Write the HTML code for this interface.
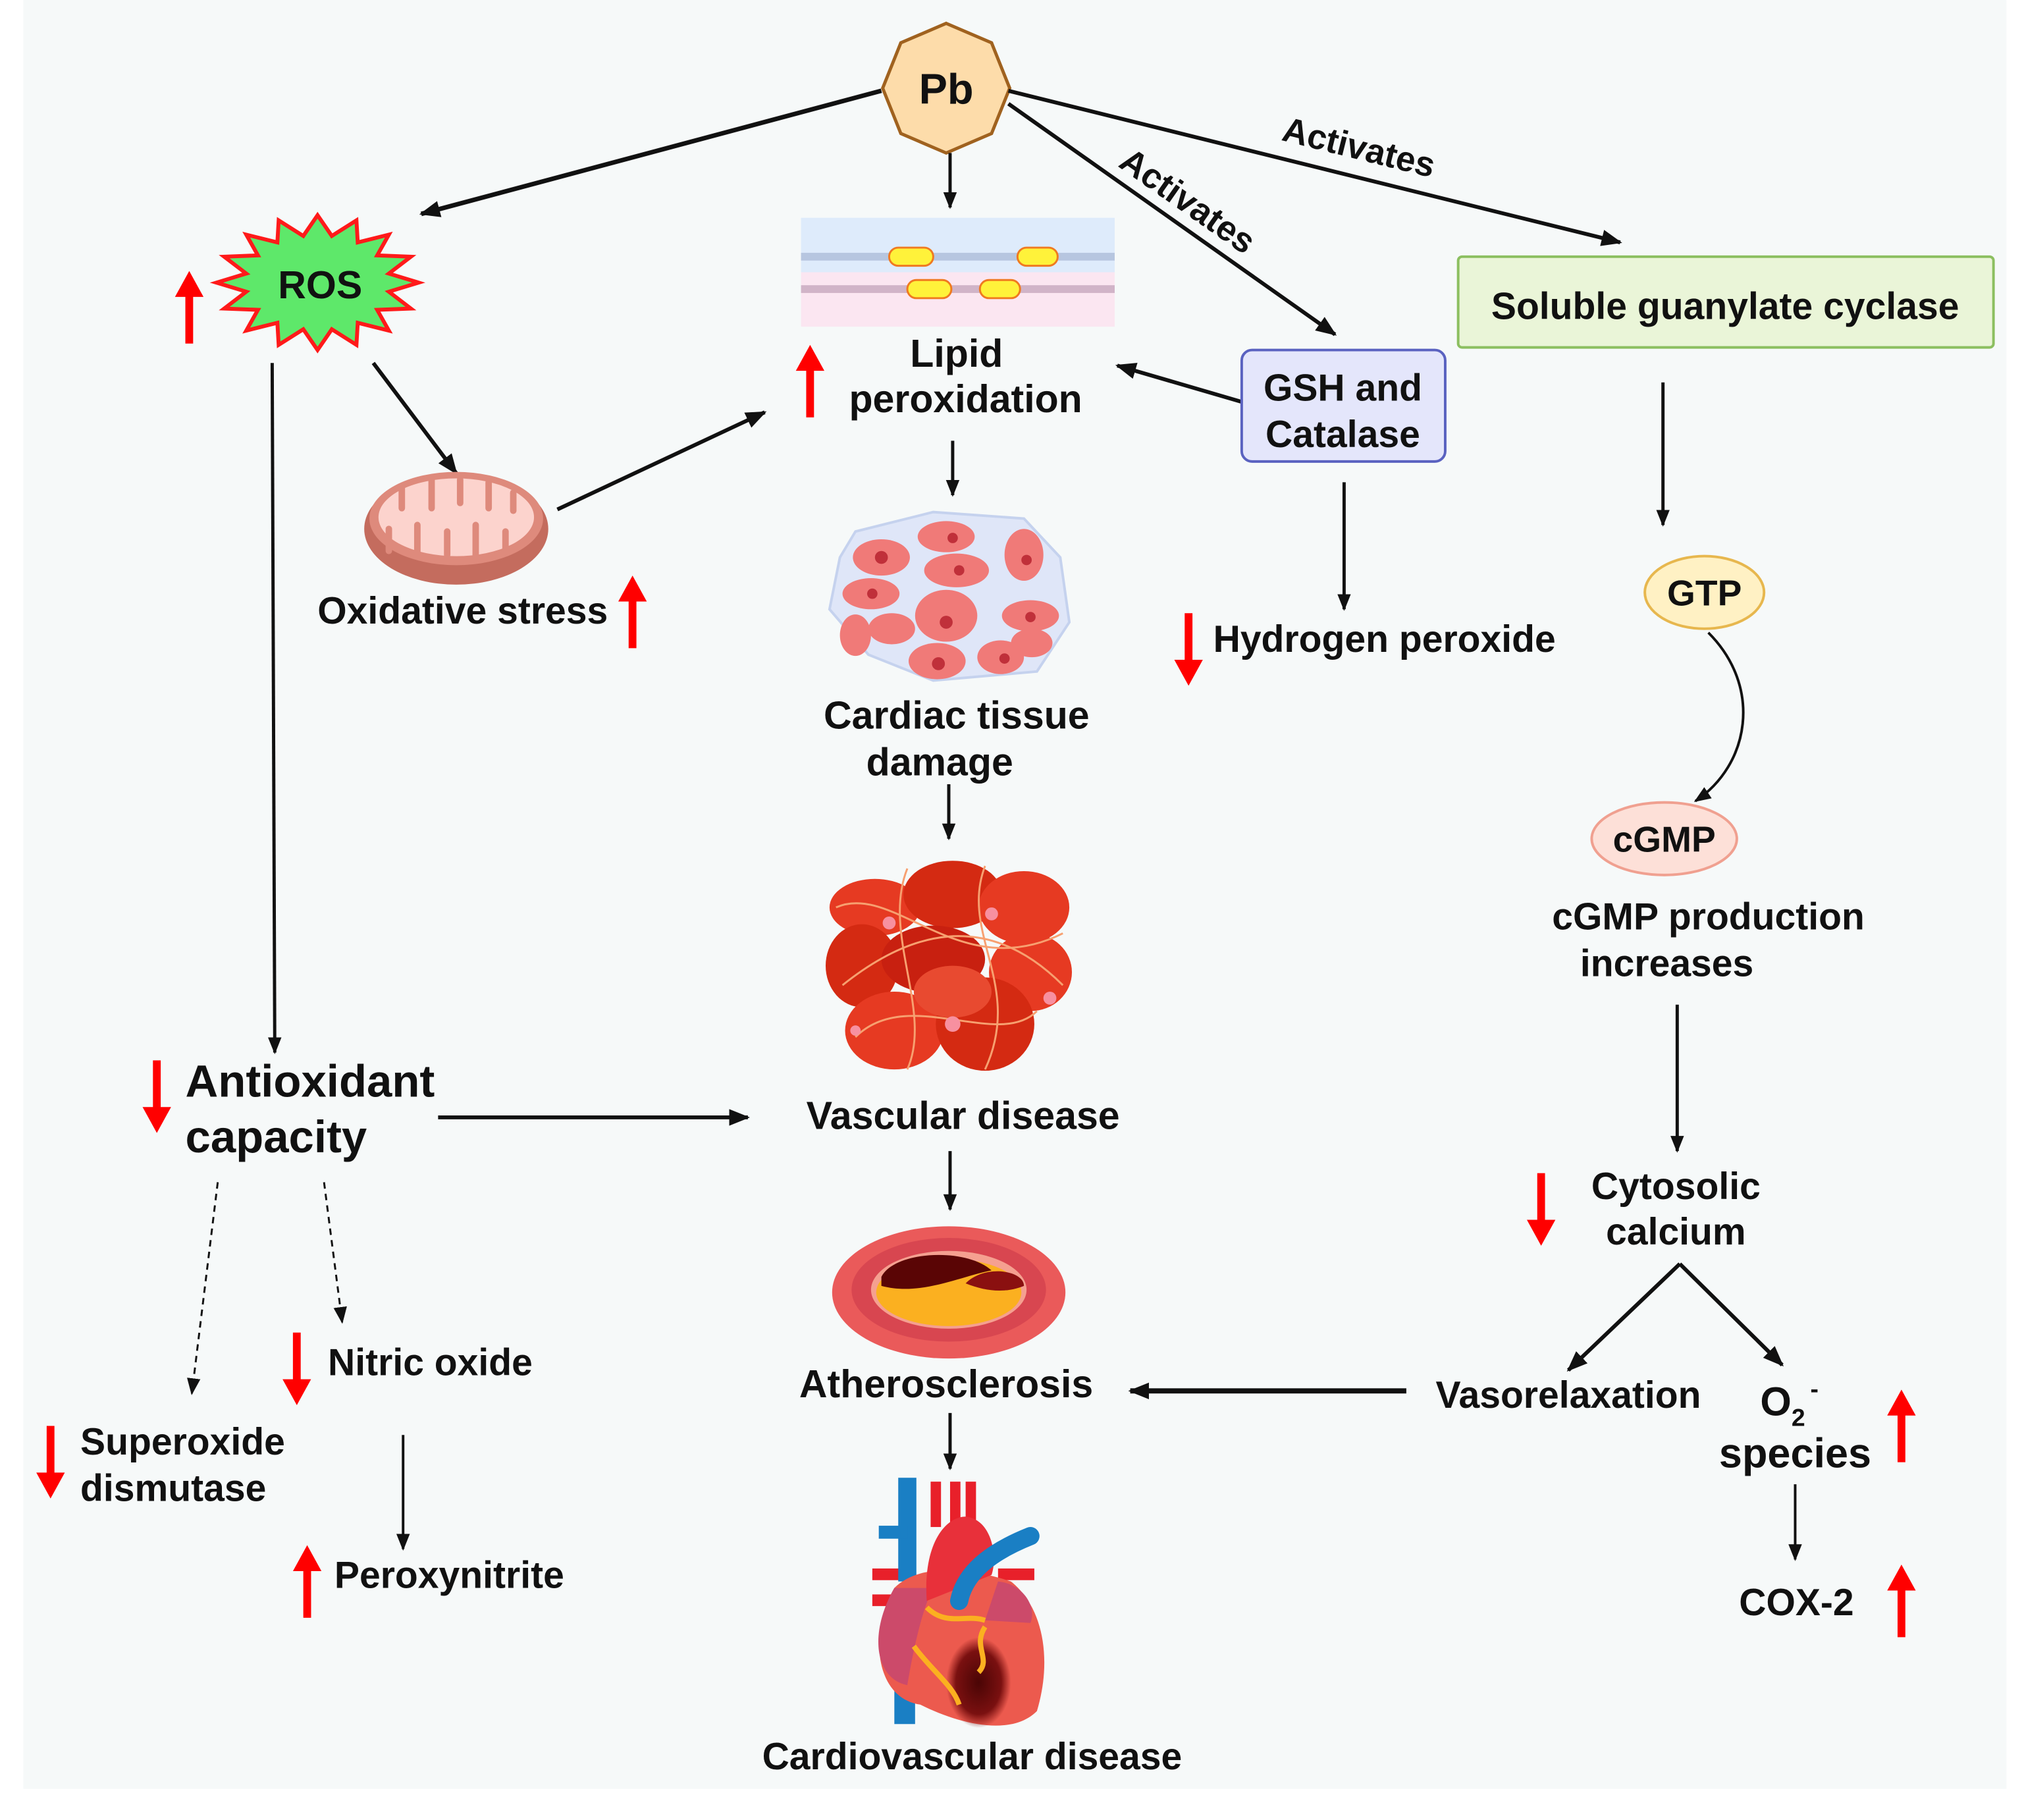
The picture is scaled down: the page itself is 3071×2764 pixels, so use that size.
<!DOCTYPE html>
<html><head><meta charset="utf-8">
<style>
html,body{margin:0;padding:0;background:#fff;}
svg{display:block;}
text{font-family:"Liberation Sans",sans-serif;font-weight:bold;fill:#111;}
</style></head>
<body>
<svg width="3071" height="2764" viewBox="0 0 1560 1404" xmlns="http://www.w3.org/2000/svg">
<defs>
<marker id="ahb" viewBox="0 0 10 10" refX="9" refY="5" markerWidth="16" markerHeight="16" orient="auto" markerUnits="userSpaceOnUse">
<path d="M0,1 L10,5 L0,9 z" fill="#111"/></marker>
<marker id="ahs" viewBox="0 0 10 10" refX="9" refY="5" markerWidth="13" markerHeight="13" orient="auto" markerUnits="userSpaceOnUse">
<path d="M0,1 L10,5 L0,9 z" fill="#111"/></marker>
<radialGradient id="inf" cx="0.5" cy="0.5" r="0.5"><stop offset="0" stop-color="#4a0505"/><stop offset="0.7" stop-color="#7a1010"/><stop offset="1" stop-color="#7a1010" stop-opacity="0"/></radialGradient>
</defs>
<rect x="0" y="0" width="1560" height="1404" fill="#fff"/>
<rect x="18" y="0" width="1530" height="1380" fill="#f6f9f9"/>

<!-- Pb octagon (vertex on top) -->
<polygon points="730,18 765,33 779,68 765,103 730,118 695,103 681,68 695,33" fill="#fddcaa" stroke="#a0621f" stroke-width="2.5"/>
<text x="730" y="80" font-size="33" text-anchor="middle">Pb</text>

<g stroke="#111" fill="none">
<line x1="680" y1="70" x2="325" y2="165" stroke-width="3.5" marker-end="url(#ahb)"/>
<line x1="733" y1="118" x2="733" y2="160" stroke-width="2.5" marker-end="url(#ahs)"/>
<line x1="778" y1="80" x2="1030" y2="258" stroke-width="3" marker-end="url(#ahb)"/>
<line x1="778" y1="70" x2="1250" y2="187" stroke-width="3" marker-end="url(#ahb)"/>
<line x1="958" y1="310" x2="862" y2="282" stroke-width="3" marker-end="url(#ahb)"/>
<line x1="288" y1="280" x2="352" y2="365" stroke-width="3" marker-end="url(#ahb)"/>
<line x1="430" y1="393" x2="590" y2="318" stroke-width="3" marker-end="url(#ahb)"/>
<line x1="210" y1="280" x2="212" y2="812" stroke-width="2.5" marker-end="url(#ahs)"/>
<line x1="735" y1="340" x2="735" y2="382" stroke-width="2.5" marker-end="url(#ahs)"/>
<line x1="732" y1="605" x2="732" y2="647" stroke-width="2.5" marker-end="url(#ahs)"/>
<line x1="338" y1="862" x2="577" y2="862" stroke-width="3" marker-end="url(#ahb)"/>
<line x1="733" y1="888" x2="733" y2="933" stroke-width="2.5" marker-end="url(#ahs)"/>
<line x1="733" y1="1090" x2="733" y2="1133" stroke-width="2.5" marker-end="url(#ahs)"/>
<line x1="168" y1="912" x2="148" y2="1075" stroke-width="1.5" stroke-dasharray="5,4" marker-end="url(#ahs)"/>
<line x1="250" y1="912" x2="264" y2="1020" stroke-width="1.5" stroke-dasharray="5,4" marker-end="url(#ahs)"/>
<line x1="311" y1="1107" x2="311" y2="1195" stroke-width="2" marker-end="url(#ahs)"/>
<line x1="1037" y1="372" x2="1037" y2="470" stroke-width="2.5" marker-end="url(#ahs)"/>
<line x1="1283" y1="295" x2="1283" y2="405" stroke-width="2.5" marker-end="url(#ahs)"/>
<path d="M1318,488 C1360,530 1350,590 1308,618" stroke-width="2" marker-end="url(#ahs)"/>
<line x1="1294" y1="775" x2="1294" y2="888" stroke-width="2.5" marker-end="url(#ahs)"/>
<line x1="1296" y1="975" x2="1210" y2="1057" stroke-width="3" marker-end="url(#ahb)"/>
<line x1="1296" y1="975" x2="1375" y2="1053" stroke-width="3" marker-end="url(#ahb)"/>
<line x1="1085" y1="1073" x2="872" y2="1073" stroke-width="4" marker-end="url(#ahb)"/>
<line x1="1385" y1="1145" x2="1385" y2="1203" stroke-width="2" marker-end="url(#ahs)"/>
</g>

<text font-size="27" transform="translate(862,128) rotate(35)">Activates</text>
<text font-size="27" transform="translate(988,108) rotate(14)">Activates</text>

<!-- ROS star -->
<polygon transform="translate(245,218)" fill="#5ee86a" stroke="#ff1a1a" stroke-width="3"
points="78,0 55,7 72,20 46,21 55,37 31,31 30,48 11,36 0,52 -11,36 -30,48 -31,31 -55,37 -46,21 -72,20 -55,7 -78,0 -55,-7 -72,-20 -46,-21 -55,-37 -31,-31 -30,-48 -11,-36 0,-52 11,-36 30,-48 31,-31 55,-37 46,-21 72,-20 55,-7"/>
<text x="247" y="230" font-size="30" text-anchor="middle">ROS</text>

<!-- red arrows -->
<g fill="#ff0000">
<path d="M143,265 h6 v-36 h8 l-11,-20 l-11,20 h8z"/>
<path d="M622,322 h6 v-36 h8 l-11,-20 l-11,20 h8z"/>
<path d="M485,500 h6 v-36 h8 l-11,-20 l-11,20 h8z"/>
<path d="M118,818 h6 v36 h8 l-11,20 l-11,-20 h8z"/>
<path d="M226,1028 h6 v36 h8 l-11,20 l-11,-20 h8z"/>
<path d="M36,1100 h6 v36 h8 l-11,20 l-11,-20 h8z"/>
<path d="M234,1248 h6 v-36 h8 l-11,-20 l-11,20 h8z"/>
<path d="M914,473 h6 v36 h8 l-11,20 l-11,-20 h8z"/>
<path d="M1186,905 h6 v36 h8 l-11,20 l-11,-20 h8z"/>
<path d="M1464,1128 h6 v-36 h8 l-11,-20 l-11,20 h8z"/>
<path d="M1464,1263 h6 v-36 h8 l-11,-20 l-11,20 h8z"/>
</g>

<!-- lipid membrane -->
<rect x="618" y="168" width="242" height="42" fill="#deebfb"/>
<rect x="618" y="210" width="242" height="42" fill="#fbe6f1"/>
<rect x="618" y="195" width="242" height="6" fill="#b7c6e0"/>
<rect x="618" y="220" width="242" height="6" fill="#d1b4c8"/>
<g fill="#fff23a" stroke="#f07a20" stroke-width="1.5">
<rect x="686" y="191" width="34" height="14" rx="7"/>
<rect x="785" y="191" width="31" height="14" rx="7"/>
<rect x="700" y="216" width="34" height="14" rx="7"/>
<rect x="756" y="216" width="31" height="14" rx="7"/>
</g>
<text x="738" y="283" font-size="30" text-anchor="middle">Lipid</text>
<text x="745" y="318" font-size="30" text-anchor="middle">peroxidation</text>

<!-- GSH box -->
<rect x="958" y="270" width="157" height="86" rx="8" fill="#e4e6fb" stroke="#5a62c0" stroke-width="2"/>
<text x="1036" y="309" font-size="29" text-anchor="middle">GSH and</text>
<text x="1036" y="345" font-size="29" text-anchor="middle">Catalase</text>

<!-- Soluble box -->
<rect x="1125" y="198" width="413" height="70" rx="3" fill="#eaf5d8" stroke="#8cbf60" stroke-width="2"/>
<text x="1331" y="246" font-size="29" text-anchor="middle">Soluble guanylate cyclase</text>

<!-- mitochondria -->
<ellipse cx="352" cy="408" rx="71" ry="43" fill="#c46c5e"/>
<ellipse cx="352" cy="400" rx="67" ry="36" fill="#de8a7c"/>
<ellipse cx="352" cy="399" rx="60" ry="30" fill="#fcd3cd"/>
<g stroke="#de8a7c" stroke-width="5" stroke-linecap="round">
<line x1="310" y1="375" x2="310" y2="392"/><line x1="333" y1="370" x2="333" y2="392"/>
<line x1="355" y1="370" x2="355" y2="388"/><line x1="377" y1="372" x2="377" y2="392"/>
<line x1="396" y1="380" x2="396" y2="394"/>
<line x1="300" y1="425" x2="300" y2="408"/><line x1="322" y1="428" x2="322" y2="405"/>
<line x1="345" y1="428" x2="345" y2="410"/><line x1="367" y1="428" x2="367" y2="405"/>
<line x1="390" y1="425" x2="390" y2="410"/>
</g>
<text x="357" y="481" font-size="29" text-anchor="middle">Oxidative stress</text>

<!-- cardiac tissue -->
<polygon points="660,410 720,395 790,400 818,430 825,480 800,518 720,525 670,505 640,470 648,430" fill="#dfe6f8" stroke="#c5d2ee" stroke-width="2"/>
<g fill="#f07a78">
<ellipse cx="680" cy="430" rx="22" ry="14"/><ellipse cx="730" cy="414" rx="22" ry="12"/>
<ellipse cx="738" cy="440" rx="25" ry="13"/><ellipse cx="790" cy="428" rx="15" ry="20"/>
<ellipse cx="672" cy="458" rx="22" ry="12"/><ellipse cx="795" cy="475" rx="22" ry="12"/>
<ellipse cx="796" cy="496" rx="16" ry="11"/><ellipse cx="730" cy="475" rx="24" ry="20"/>
<ellipse cx="688" cy="485" rx="18" ry="12"/><ellipse cx="660" cy="490" rx="12" ry="16"/>
<ellipse cx="723" cy="510" rx="22" ry="14"/><ellipse cx="772" cy="507" rx="18" ry="13"/>
</g>
<g fill="#c0303a">
<circle cx="680" cy="430" r="5"/><circle cx="735" cy="415" r="4"/><circle cx="740" cy="440" r="4"/>
<circle cx="792" cy="432" r="4"/><circle cx="673" cy="458" r="4"/><circle cx="730" cy="480" r="5"/>
<circle cx="795" cy="476" r="4"/><circle cx="724" cy="512" r="5"/><circle cx="775" cy="508" r="4"/>
</g>
<text x="738" y="562" font-size="30" text-anchor="middle">Cardiac tissue</text>
<text x="725" y="598" font-size="30" text-anchor="middle">damage</text>

<!-- vascular clot -->
<g>
<ellipse cx="675" cy="700" rx="35" ry="22" fill="#e63a22"/>
<ellipse cx="735" cy="690" rx="38" ry="26" fill="#d42a12"/>
<ellipse cx="790" cy="700" rx="35" ry="28" fill="#e63a22"/>
<ellipse cx="665" cy="745" rx="28" ry="32" fill="#d42a12"/>
<ellipse cx="720" cy="740" rx="40" ry="26" fill="#c82010"/>
<ellipse cx="795" cy="750" rx="32" ry="30" fill="#e63a22"/>
<ellipse cx="690" cy="795" rx="38" ry="30" fill="#e63a22"/>
<ellipse cx="760" cy="790" rx="38" ry="36" fill="#d42a12"/>
<ellipse cx="735" cy="765" rx="30" ry="20" fill="#e84a30"/>
<g stroke="#f7a070" stroke-width="1.5" fill="none">
<path d="M645,700 C690,680 740,760 820,720"/><path d="M650,760 C700,720 760,700 820,760"/>
<path d="M660,800 C700,760 770,810 800,780"/><path d="M700,670 C680,720 720,780 700,825"/>
<path d="M760,668 C740,720 790,760 760,825"/>
</g>
<g fill="#f790a0"><circle cx="686" cy="712" r="5"/><circle cx="765" cy="705" r="5"/><circle cx="735" cy="790" r="6"/><circle cx="810" cy="770" r="5"/><circle cx="660" cy="795" r="4"/></g>
</g>
<text x="743" y="871" font-size="30" text-anchor="middle">Vascular disease</text>

<!-- artery -->
<ellipse cx="732" cy="997" rx="90" ry="51" fill="#ea5a5a"/>
<ellipse cx="732" cy="995" rx="75" ry="40" fill="#d84650"/>
<ellipse cx="732" cy="995" rx="60" ry="30" fill="#f5a090"/>
<ellipse cx="732" cy="997" rx="56" ry="26" fill="#fbb020"/>
<path d="M680,985 C690,965 745,962 765,980 C740,985 710,1000 680,992z" fill="#5a0505"/>
<path d="M745,990 C760,975 790,980 790,992 C775,998 760,996 745,990z" fill="#8a1010"/>

<text x="730" y="1078" font-size="30" text-anchor="middle">Atherosclerosis</text>

<!-- heart -->
<g>
<rect x="690" y="1290" width="16" height="40" fill="#1a7fc4"/>
<rect x="673" y="1210" width="24" height="9" fill="#e8202a"/><rect x="673" y="1230" width="24" height="9" fill="#e8202a"/>
<rect x="770" y="1210" width="28" height="9" fill="#e8202a"/>
<rect x="693" y="1140" width="14" height="80" fill="#1a7fc4"/>
<rect x="678" y="1177" width="22" height="10" fill="#1a7fc4"/>
<rect x="718" y="1143" width="8" height="35" fill="#e8202a"/><rect x="733" y="1143" width="8" height="35" fill="#e8202a"/><rect x="745" y="1143" width="8" height="35" fill="#e8202a"/>
<path d="M690,1225 C670,1260 675,1310 710,1315 C740,1330 780,1340 800,1320 C812,1280 805,1240 780,1220 C750,1210 710,1205 690,1225z" fill="#ec5a4e"/>
<path d="M690,1225 C670,1260 675,1295 700,1300 C705,1270 712,1240 720,1225z" fill="#cc4a6a"/>
<path d="M770,1220 C790,1222 800,1240 795,1252 L760,1250z" fill="#cc4a6a"/>
<ellipse cx="755" cy="1298" rx="25" ry="35" fill="url(#inf)"/>
<path d="M715,1240 C730,1255 745,1245 760,1250 M705,1270 C720,1290 735,1300 740,1315 M760,1255 C750,1270 765,1280 755,1290" stroke="#fbb020" stroke-width="4" fill="none"/>
<path d="M715,1235 C712,1190 730,1170 745,1170 C765,1172 770,1200 765,1215 L740,1225z" fill="#e8303a"/>
<path d="M740,1235 C745,1210 770,1195 795,1185" stroke="#1a7fc4" stroke-width="14" fill="none" stroke-linecap="round"/>
</g>
<text x="750" y="1365" font-size="29" text-anchor="middle">Cardiovascular disease</text>

<!-- left texts -->
<text x="143" y="846" font-size="35">Antioxidant</text>
<text x="143" y="889" font-size="35">capacity</text>
<text x="253" y="1061" font-size="29">Nitric oxide</text>
<text x="62" y="1122" font-size="29">Superoxide</text>
<text x="62" y="1158" font-size="29">dismutase</text>
<text x="258" y="1225" font-size="29">Peroxynitrite</text>

<!-- right side -->
<text x="936" y="503" font-size="29">Hydrogen peroxide</text>
<ellipse cx="1315" cy="457" rx="46" ry="28" fill="#fff1c4" stroke="#e7b74e" stroke-width="2"/>
<text x="1315" y="467" font-size="28" text-anchor="middle">GTP</text>
<ellipse cx="1284" cy="647" rx="56" ry="28" fill="#fde0d8" stroke="#f0a090" stroke-width="2"/>
<text x="1284" y="657" font-size="28" text-anchor="middle">cGMP</text>
<text x="1318" y="717" font-size="29" text-anchor="middle">cGMP production</text>
<text x="1286" y="753" font-size="29" text-anchor="middle">increases</text>
<text x="1293" y="925" font-size="29" text-anchor="middle">Cytosolic</text>
<text x="1293" y="960" font-size="29" text-anchor="middle">calcium</text>
<text x="1210" y="1086" font-size="29" text-anchor="middle">Vasorelaxation</text>
<text x="1358" y="1092" font-size="31">O<tspan font-size="19" dy="8">2</tspan><tspan font-size="19" dy="-22" dx="4">-</tspan></text>
<text x="1385" y="1132" font-size="32" text-anchor="middle">species</text>
<text x="1386" y="1246" font-size="29" text-anchor="middle">COX-2</text>
</svg>
</body></html>
